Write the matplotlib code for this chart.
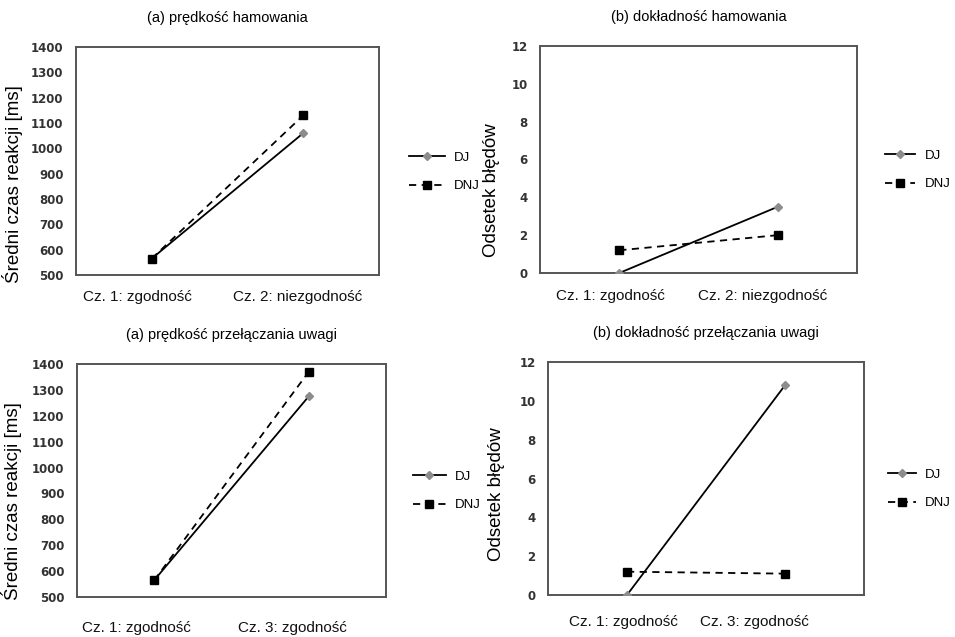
import matplotlib.pyplot as plt

# dane
kat_hamowanie = ['Cz. 1: zgodność', 'Cz. 2: niezgodność']
kat_przelaczanie = ['Cz. 1: zgodność', 'Cz. 3: zgodność']

dj_predkosc_ham = [565, 1060]
dnj_predkosc_ham = [565, 1130]
dj_dokl_ham = [0.0, 3.5]
dnj_dokl_ham = [1.2, 2.0]

dj_predkosc_prz = [565, 1275]
dnj_predkosc_prz = [565, 1370]
dj_dokl_prz = [0.0, 10.8]
dnj_dokl_prz = [1.2, 1.1]

W, H = 955, 637
fig = plt.figure(figsize=(W / 100, H / 100), dpi=100)


def px_axes(x0, y0, x1, y1):
    # wspolrzedne w pikselach (od gory) -> figura
    return fig.add_axes([x0 / W, 1 - y1 / H, (x1 - x0) / W, (y1 - y0) / H])


def panel(box, title, cats, dj, dnj, ylim, yticks, ylabel, ylab_xy,
          xlab_dx, xlab_dy, leg_xy, handlelen):
    ax = px_axes(*box)
    x = list(range(len(cats)))
    l1, = ax.plot(x, dj, '-', color='black', lw=1.3, marker='D', ms=4.5,
                  mfc='#8c8c8c', mec='#8c8c8c', label='DJ', zorder=3)
    l2, = ax.plot(x, dnj, '--', color='black', lw=1.3, marker='s', ms=5.5,
                  mfc='black', mec='black', label='DNJ', dashes=(4, 3), zorder=3)
    ax.set_xlim(-0.5, 1.5)
    ax.set_ylim(*ylim)
    ax.set_yticks(yticks)
    ax.set_xticks(x)
    ax.set_xticklabels([])
    # etykiety kategorii (lekko przesuniete w lewo jak w Excelu)
    for i, c in enumerate(cats):
        ax.annotate(c, xy=(i, 0), xycoords=('data', 'axes fraction'),
                    xytext=(xlab_dx[i], -xlab_dy), textcoords='offset pixels',
                    ha='center', va='center', fontsize=11,
                    family='Liberation Sans', color='#111111')
    for t in ax.get_yticklabels():
        t.set_fontsize(8.5)
        t.set_fontweight('bold')
        t.set_color('#333333')
    ax.tick_params(length=0)
    ax.tick_params(axis='y', pad=9)
    for s in ax.spines.values():
        s.set_color('#555555')
        s.set_linewidth(1.4)
    ax.set_title(title, fontsize=10.5, family='Liberation Sans', pad=18)
    ax.set_ylabel(ylabel, fontsize=13.5, family='Liberation Sans')
    ax.yaxis.set_label_coords(*ylab_xy)
    fig.legend(handles=[l1, l2], loc='center left',
               bbox_to_anchor=(leg_xy[0] / W, 1 - leg_xy[1] / H),
               frameon=False, handlelength=handlelen, handletextpad=0.7,
               labelspacing=1.25, prop={'family': 'Liberation Sans', 'size': 9.5})
    return ax


panel((76, 47, 379, 275), '(a) prędkość hamowania', kat_hamowanie,
      dj_predkosc_ham, dnj_predkosc_ham, (500, 1400),
      range(500, 1401, 100), 'Średni czas reakcji [ms]', (-0.175, 0.40),
      (-14, -6), 22, (397, 172), 2.7)
panel((540, 46, 857, 273), '(b) dokładność hamowania', kat_hamowanie,
      dj_dokl_ham, dnj_dokl_ham, (0, 12),
      range(0, 13, 2), 'Odsetek błędów', (-0.126, 0.366),
      (-9, -15), 23, (873, 170), 2.3)
panel((77, 364, 386, 597), '(a) prędkość przełączania uwagi', kat_przelaczanie,
      dj_predkosc_prz, dnj_predkosc_prz, (500, 1400),
      range(500, 1401, 100), 'Średni czas reakcji [ms]', (-0.178, 0.41),
      (-18, -16), 31, (401, 491), 2.5)
panel((548, 362, 864, 595), '(b) dokładność przełączania uwagi', kat_przelaczanie,
      dj_dokl_prz, dnj_dokl_prz, (0, 12),
      range(0, 13, 2), 'Odsetek błędów', (-0.136, 0.433),
      (-4, -31), 27, (876, 489), 2.1)

fig.savefig('out.png', dpi=100)
